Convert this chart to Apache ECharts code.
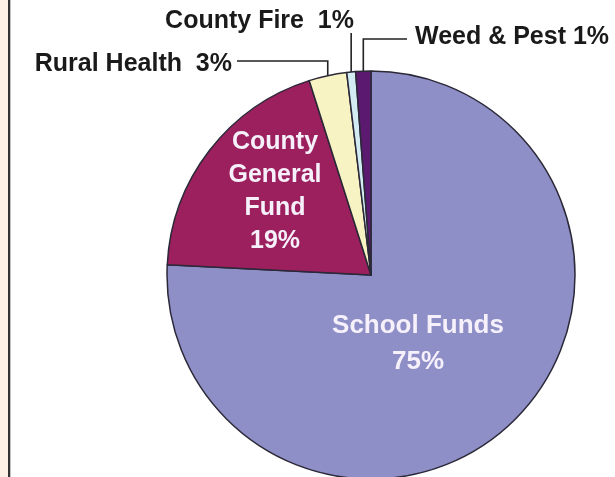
<!DOCTYPE html>
<html>
<head>
<meta charset="utf-8">
<script src="https://cdn.jsdelivr.net/npm/echarts@6/dist/echarts.min.js"></script>
<style>
  html, body { margin: 0; padding: 0; background: #ffffff; }
  #chart { width: 615px; height: 477px; }
</style>
</head>
<body>
<div id="chart"></div>
<script>
// ---- data ----
const categories = ['School Funds', 'County General Fund', 'Rural Health', 'County Fire', 'Weed & Pest'];
const values = [75.8, 19.3, 3.0, 0.7, 1.2];
const pctLabels = ['75%', '19%', '3%', '1%', '1%'];
const labelNames = ['School Funds', 'County\nGeneral\nFund', 'Rural Health ', 'County Fire ', 'Weed & Pest'];

// ---- styles / layout ----
const colors = ['#8f8fc8', '#9c1f5e', '#f8f3c2', '#d3ebf2', '#5b1a6f'];
const CX = 371, CY = 275, R = 204;
const FONT = '"Liberation Sans", Arial, Helvetica, sans-serif';
const labelPos = [
  { x: 418, y: 344, align: 'center' },
  { x: 275, y: 192, align: 'center' },
  { x: 232, y: 64, align: 'right', lineY: 61, lineX: 237 },
  { x: 354, y: 21, align: 'right', lineY: 33 },
  { x: 415, y: 37, align: 'left', lineY: 39, lineX: 407 }
];
const inside = [true, true, false, false, false];

const total = values.reduce((a, b) => a + b, 0);
function edgePoint(i) {
  let cum = 0;
  for (let k = 0; k < i; k++) cum += values[k];
  const a = (cum + values[i] / 2) / total * 2 * Math.PI;
  return [CX + R * Math.sin(a), CY - R * Math.cos(a)];
}

const data = categories.map((name, i) => {
  const isIn = inside[i];
  return {
    name: name,
    value: values[i],
    itemStyle: { color: colors[i] },
    label: {
      show: true,
      position: isIn ? 'inside' : 'outside',
      formatter: labelNames[i] + (i === 0 ? '\n' : (i === 1 ? '\n' : ' ')) + pctLabels[i],
      color: isIn ? '#f5f0fa' : '#1a1a1a',
      fontFamily: FONT,
      fontWeight: 'bold',
      fontSize: i === 0 ? 26 : 25,
      lineHeight: i === 0 ? 36 : 33,
      align: 'center'
    },
    labelLine: {
      show: !isIn,
      lineStyle: { color: '#222', width: 1.6 }
    }
  };
});

const chart = echarts.init(document.getElementById('chart'), null, { renderer: 'canvas' });
chart.setOption({
  animation: false,
  backgroundColor: '#ffffff',
  graphic: [
    { type: 'rect', shape: { x: 0, y: 0, width: 8, height: 477 }, style: { fill: '#fdf0e4' } },
    { type: 'rect', shape: { x: 8, y: 0, width: 2.3, height: 477 }, style: { fill: '#333333' } }
  ],
  series: [{
    type: 'pie',
    center: [CX, CY],
    radius: R,
    startAngle: 90,
    clockwise: true,
    avoidLabelOverlap: false,
    itemStyle: { borderColor: '#2b2838', borderWidth: 1.5 },
    emphasis: { disabled: true },
    data: data,
    labelLayout: function (params) {
      const i = params.dataIndex;
      const p = labelPos[i];
      const out = { x: p.x, y: p.y, align: p.align, verticalAlign: 'middle' };
      if (p.lineY != null) {
        const e = edgePoint(i);
        const lx = p.lineX != null ? p.lineX : e[0];
        out.labelLinePoints = [e, [e[0], p.lineY], [lx, p.lineY]];
      }
      return out;
    }
  }]
});
</script>
</body>
</html>
